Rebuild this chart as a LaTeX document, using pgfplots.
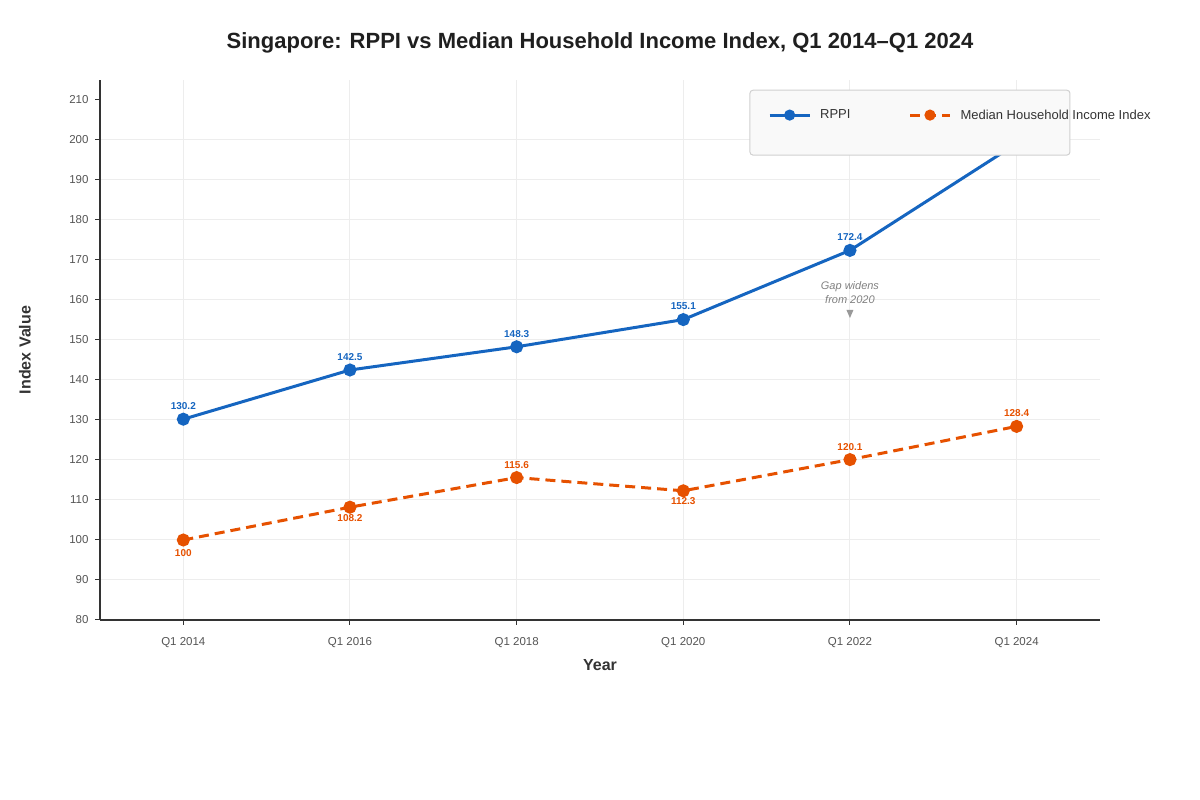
\documentclass[border=0pt]{standalone}
\usepackage{fontspec}
\setmainfont{Liberation Sans}
\usepackage{pgfplots}
\pgfplotsset{compat=1.18}
\definecolor{rppi}{HTML}{1565C0}
\definecolor{inc}{HTML}{E65100}
\definecolor{gridc}{HTML}{EDEDED}
\definecolor{tickc}{HTML}{555555}
\definecolor{axc}{HTML}{333333}
\definecolor{legbg}{HTML}{F9F9F9}
\definecolor{legbd}{HTML}{D0D0D0}
\begin{document}
\begin{tikzpicture}[x=1pt,y=1pt]
\path (0,0) rectangle (1200,800);
\node[font=\bfseries\fontsize{22}{26}\selectfont, text=black!88] at (600,757) {Singapore: RPPI vs Median Household Income Index, Q1 2014–Q1 2024};
\begin{axis}[at={(100pt,180pt)}, anchor=south west, scale only axis,
  set layers=standard,
  width=1000pt, height=540pt,
  xmin=-0.5, xmax=5.5, ymin=80, ymax=215,
  clip=false,
  axis lines=left, axis line style={-, axc, line width=1.5pt},
  xtick={0,...,5},
  xticklabels={Q1 2014,Q1 2016,Q1 2018,Q1 2020,Q1 2022,Q1 2024},
  ytick={80,90,...,200},
  extra y ticks={210}, extra tick style={grid=none},
  tick style={axc, line width=1pt}, tick align=outside, major tick length=5pt,
  grid=major, major grid style={gridc, line width=1pt},
  ticklabel style={font=\fontsize{11.5}{14}\selectfont, text=tickc},
  xticklabel style={yshift=-9pt},
  yticklabel style={xshift=-3pt},
  /pgf/number format/assume math mode=true,
  xlabel=Year, ylabel=Index Value,
  label style={font=\bfseries\fontsize{16}{19}\selectfont, text=axc},
  xlabel style={at={(axis description cs:0.5,-0.0833)}, anchor=center},
  ylabel style={at={(axis description cs:-0.075,0.5)}, anchor=center},
  legend image code/.code={\draw[#1, mark size=4pt, mark repeat=2, mark phase=2] plot coordinates {(0pt,0pt) (20pt,0pt) (40pt,0pt)};},
  legend style={draw=none, fill=none, at={(0.665,0.935)}, anchor=west,
    font=\fontsize{13}{15}\selectfont, text=axc, legend columns=2,
    /tikz/every odd column/.append style={column sep=7pt},
    /tikz/every even column/.append style={column sep=56pt}},
  legend cell align=left,
]
\addplot[rppi, line width=3pt, mark=*, mark size=5pt, mark options={solid},
  nodes near coords, point meta=explicit symbolic,
  visualization depends on={\thisrow{p} \as \lp},
  every node near coord/.append style={font=\bfseries\fontsize{10}{12}\selectfont, text=rppi, anchor=center, yshift={\lp*13pt}}]
  table[x=x, y=y, meta=lab] {
x y lab p
0 130.2 130.2 1
1 142.5 142.5 1
2 148.3 148.3 1
3 155.1 155.1 1
4 172.4 172.4 1
5 199.1 199.1 1
};
\addlegendentry{RPPI}
\addplot[inc, line width=3pt, dash pattern=on 10pt off 6pt, mark=*, mark size=5pt, mark options={solid},
  nodes near coords, point meta=explicit symbolic,
  visualization depends on={\thisrow{p} \as \lp},
  every node near coord/.append style={font=\bfseries\fontsize{10}{12}\selectfont, text=inc, anchor=center, yshift={\lp*13pt}}]
  table[x=x, y=y, meta=lab] {
x y lab p
0 100 100 -1
1 108.2 108.2 -0.85
2 115.6 115.6 1
3 112.3 112.3 -0.8
4 120.1 120.1 1
5 128.4 128.4 1
};
\addlegendentry{Median Household Income Index}
\begin{pgfonlayer}{axis descriptions}
\draw[fill=legbg, draw=legbd, rounded corners=3pt, line width=1pt]
  (rel axis cs:0.65,0.861) rectangle (rel axis cs:0.97,0.981);
\end{pgfonlayer}
\node[font=\itshape\fontsize{11}{14}\selectfont, text=gray, align=center] at (axis cs:4,161.8) {Gap widens\\from 2020};
\fill[gray!80] (axis cs:4,155.5) -- ++(-3.5pt,8pt) -- ++(7pt,0pt) -- cycle;
\end{axis}
\end{tikzpicture}
\end{document}
